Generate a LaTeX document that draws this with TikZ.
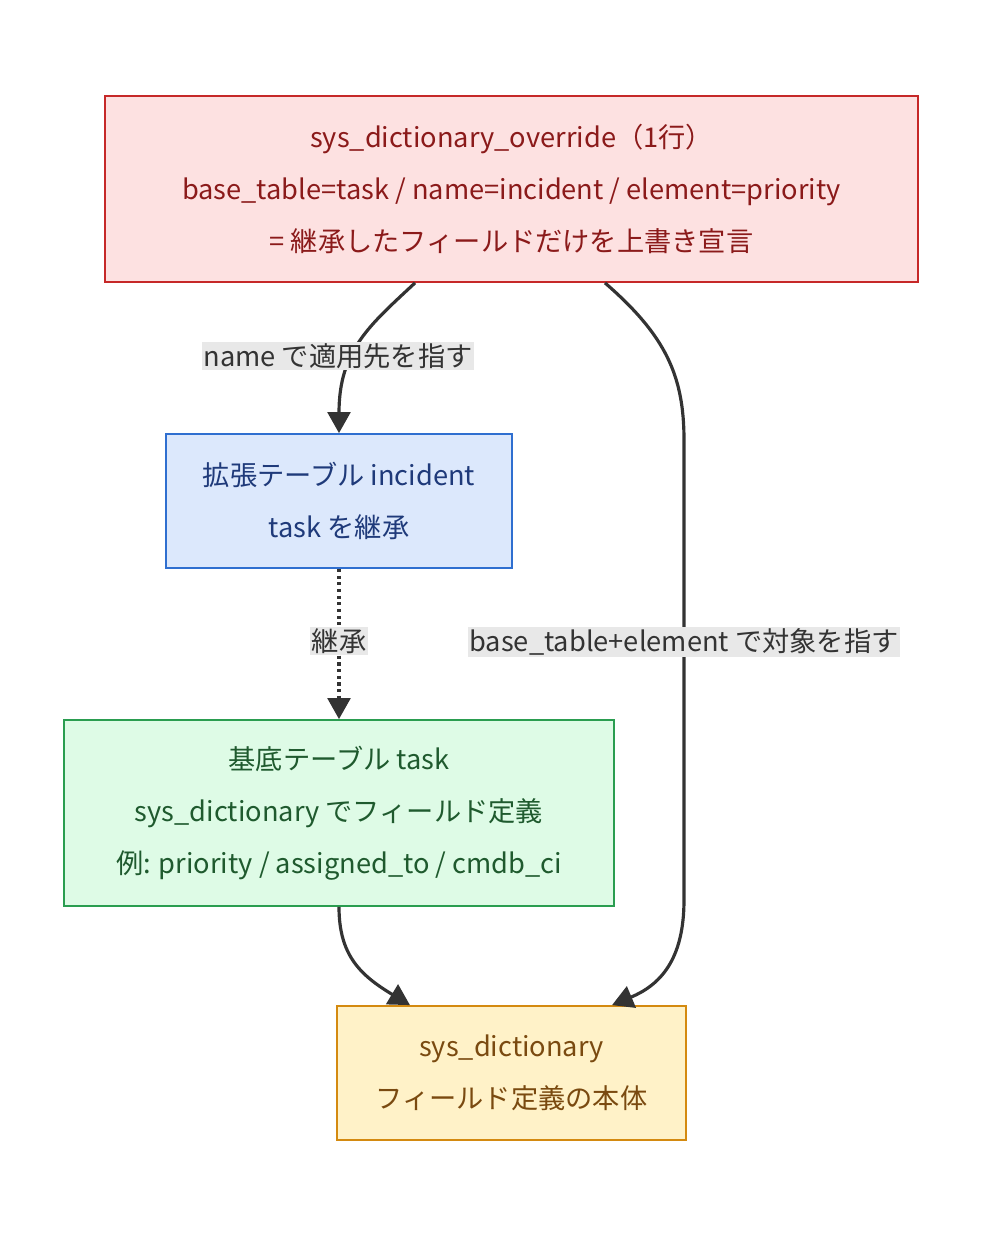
\documentclass[tikz,border=0pt]{standalone}
\usepackage{fontspec}
\setmainfont{Noto Sans CJK JP}
\usetikzlibrary{arrows.meta}
\definecolor{redfill}{HTML}{FDE1E1}\definecolor{redline}{HTML}{C62828}\definecolor{redtext}{HTML}{8B1A1A}
\definecolor{bluefill}{HTML}{DCE8FC}\definecolor{blueline}{HTML}{2F6FD0}\definecolor{bluetext}{HTML}{1F3A7A}
\definecolor{greenfill}{HTML}{DEFBE6}\definecolor{greenline}{HTML}{2A9D50}\definecolor{greentext}{HTML}{1F5A2E}
\definecolor{yellowfill}{HTML}{FFF2C8}\definecolor{yellowline}{HTML}{D48A10}\definecolor{yellowtext}{HTML}{7A4A10}
\definecolor{edgegray}{HTML}{333333}\definecolor{labelbg}{HTML}{E8E8E8}
\begin{document}
\begin{tikzpicture}[x=0.02cm,y=-0.02cm,
  box/.style={draw,line width=1pt,align=center,inner sep=0pt,font=\fontsize{15.5}{29.5}\selectfont},
  edge/.style={edgegray,line width=1.8pt,-{Triangle[length=12pt,width=13pt]}},
  elabel/.style={fill=labelbg,inner sep=1pt,text=edgegray,font=\fontsize{15.5}{19}\selectfont}]
  \useasboundingbox (0,0) rectangle (1000,1252);
  \node[box,fill=redfill,draw=redline,text=redtext,minimum width=813*0.02cm,minimum height=186*0.02cm] (override) at (511.5,189)
    {sys\_dictionary\_override（1行）\\base\_table=task / name=incident / element=priority\\= 継承したフィールドだけを上書き宣言};
  \node[box,fill=bluefill,draw=blueline,text=bluetext,minimum width=346*0.02cm,minimum height=134*0.02cm] (incident) at (339,501)
    {拡張テーブル incident\\task を継承};
  \node[box,fill=greenfill,draw=greenline,text=greentext,minimum width=550*0.02cm,minimum height=186*0.02cm] (task) at (339,813)
    {基底テーブル task\\sys\_dictionary でフィールド定義\\例: priority / assigned\_to / cmdb\_ci};
  \node[box,fill=yellowfill,draw=yellowline,text=yellowtext,minimum width=349*0.02cm,minimum height=134*0.02cm] (dict) at (511.5,1073)
    {sys\_dictionary\\フィールド定義の本体};
  \coordinate (turn) at (684,440);
  \coordinate (down) at (684,900);
  % edges
  \draw[edge] (override.south -| 415,0) .. controls (370,325) and (339,350) .. (incident.north);
  \node[elabel] at (338,356) {name で適用先を指す};
  \draw[edge,dotted] (incident.south) -- (task.north);
  \node[elabel] at (339,641) {継承};
  \draw[edge] (override.south -| 605,0) .. controls (665,335) and (684,375) .. (turn) -- (down) .. controls (684,960) and (660,985) .. (dict.north -| 612,0);
  \node[elabel] at (684,642) {base\_table+element で対象を指す};
  \draw[edge] (task.south) .. controls (339,955) and (360,975) .. (dict.north -| 410,0);
\end{tikzpicture}
\end{document}
